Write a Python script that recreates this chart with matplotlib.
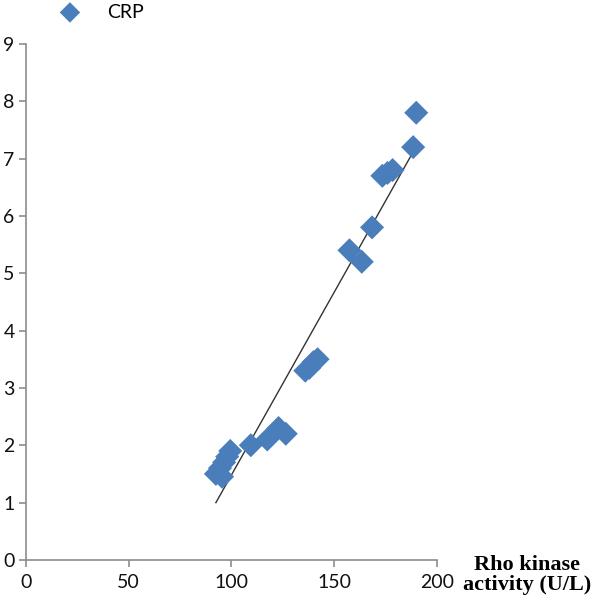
import numpy as np
import matplotlib
matplotlib.use("Agg")
import matplotlib.pyplot as plt

# Rho kinase activity (U/L) vs CRP
rho_kinase = [190, 188.5, 173.5, 176, 178.5, 168.5, 157.5, 163.5,
              136, 138, 140, 142, 123, 126.5, 117.5, 109.5,
              99.5, 98, 96.5, 94.5, 92.5, 95.5]
crp = [7.8, 7.2, 6.7, 6.75, 6.8, 5.8, 5.4, 5.2,
       3.3, 3.35, 3.45, 3.5, 2.3, 2.2, 2.1, 2.0,
       1.9, 1.8, 1.7, 1.6, 1.5, 1.45]
x_ticks = [0, 50, 100, 150, 200]
y_ticks = list(range(10))

AXIS_GREY = "#8c8c8c"
MARKER_BLUE = "#4a7ebb"

fig = plt.figure(figsize=(6.0, 6.02), dpi=100)
ax = fig.add_axes([0.043, 0.07, 0.685, 0.857])

ax.scatter(rho_kinase, crp, marker="D", s=150, color=MARKER_BLUE,
           edgecolors="none", label="CRP", zorder=3)

# linear trendline over the data range
slope, intercept = np.polyfit(rho_kinase, crp, 1)
xs = np.array([min(rho_kinase), max(rho_kinase)])
ax.plot(xs, slope * xs + intercept, color="#333333", linewidth=1.0, zorder=2)

ax.set_xlim(0, 200)
ax.set_ylim(0, 9)
ax.set_xticks(x_ticks)
ax.set_yticks(y_ticks)

for side in ["top", "right"]:
    ax.spines[side].set_visible(False)
for side in ["left", "bottom"]:
    ax.spines[side].set_color(AXIS_GREY)
    ax.spines[side].set_linewidth(1.2)

ax.tick_params(axis="both", direction="out", length=5, width=1.2,
               color=AXIS_GREY, labelsize=14, labelcolor="#111111")
ax.tick_params(axis="y", pad=3)
ax.tick_params(axis="x", pad=5)
for lbl in ax.get_xticklabels() + ax.get_yticklabels():
    lbl.set_family("Lato")

ax.legend(loc="center left", bbox_to_anchor=(0.055, 0.98),
          bbox_transform=fig.transFigure, frameon=False,
          prop={"family": "Lato", "size": 14}, handletextpad=0.9,
          markerscale=0.85)

fig.text(0.985, 0.045, "Rho kinase\nactivity (U/L)", ha="right", va="center",
         multialignment="center", family="Liberation Serif",
         fontweight="bold", fontsize=16, linespacing=0.95)

fig.savefig("out.png", dpi=100)
